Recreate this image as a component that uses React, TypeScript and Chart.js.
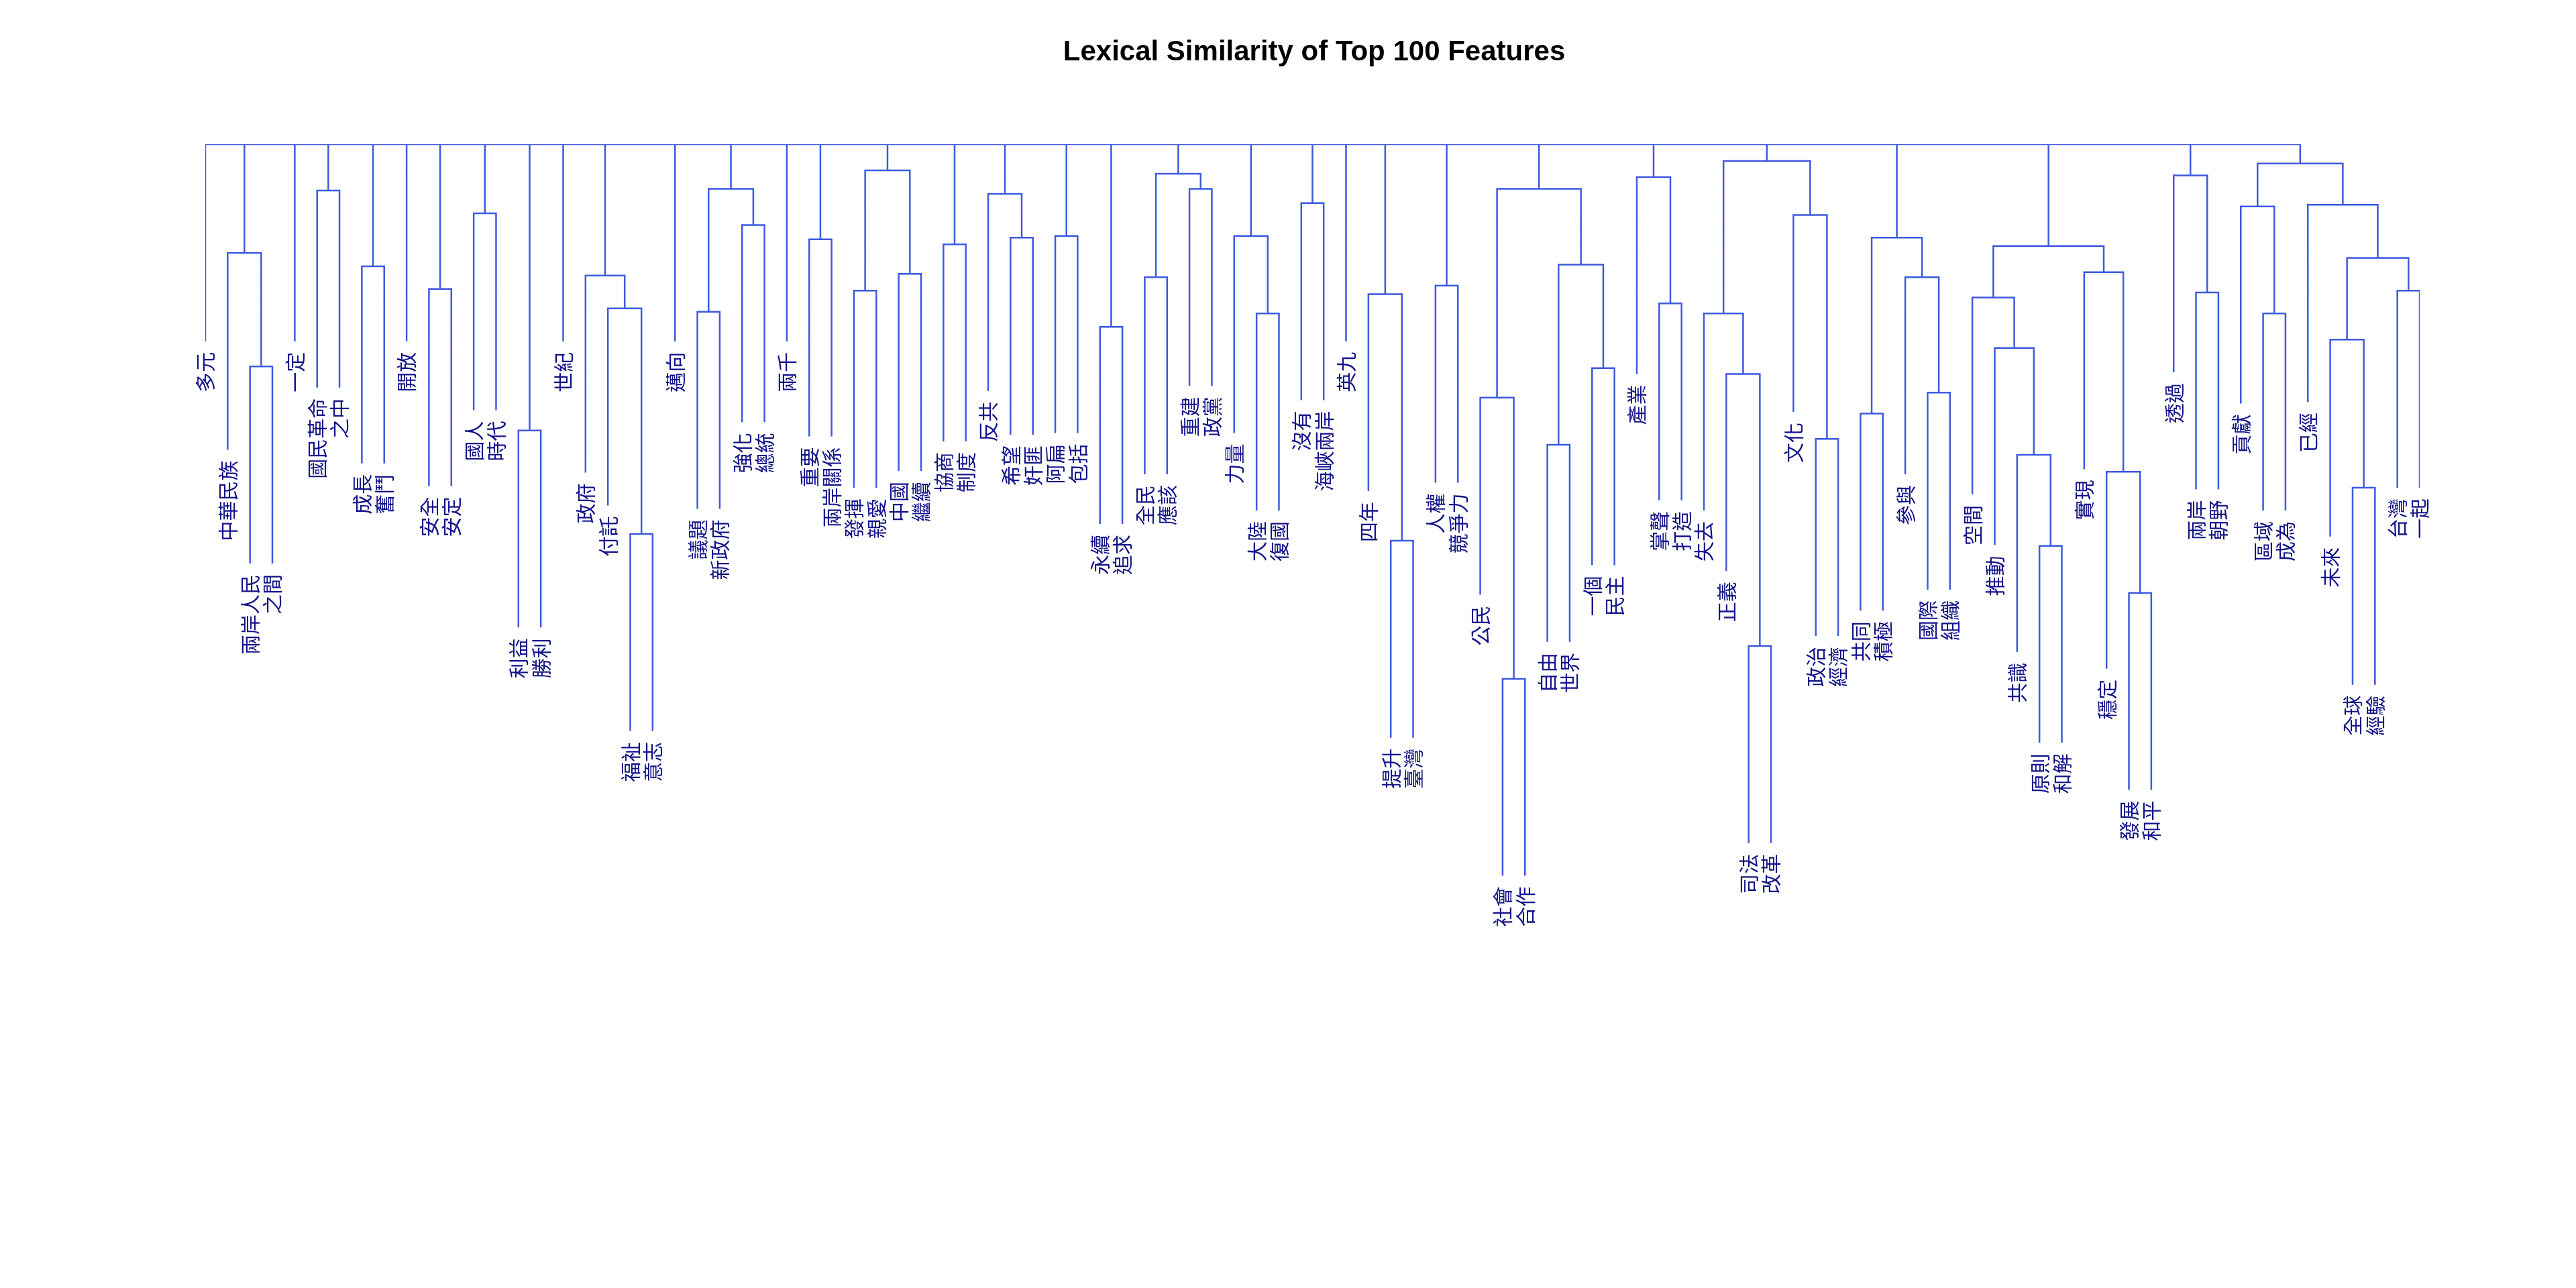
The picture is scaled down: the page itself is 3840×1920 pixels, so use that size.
import React, { useEffect, useRef } from "react";
import { Chart, registerables } from "chart.js";

Chart.register(...registerables);

const labels: string[] = [
  "多元", "中華民族", "兩岸人民", "之間", "一定", "國民革命", "之中", "成長", "奮鬥", "開放",
  "安全", "安定", "國人", "時代", "利益", "勝利", "世紀", "政府", "付託", "福祉",
  "意志", "邁向", "議題", "新政府", "強化", "總統", "兩千", "重要", "兩岸關係", "發揮",
  "親愛", "中國", "繼續", "協商", "制度", "反共", "希望", "奸匪", "阿扁", "包括",
  "永續", "追求", "全民", "應該", "重建", "政黨", "力量", "大陸", "復國", "沒有",
  "海峽兩岸", "英九", "四年", "提升", "臺灣", "人權", "競爭力", "公民", "社會", "合作",
  "自由", "世界", "一個", "民主", "產業", "掌聲", "打造", "失去", "正義", "司法",
  "改革", "文化", "政治", "經濟", "共同", "積極", "參與", "國際", "組織", "空間",
  "推動", "共識", "原則", "和解", "實現", "穩定", "發展", "和平", "透過", "兩岸",
  "朝野", "貢獻", "區域", "成為", "已經", "未來", "全球", "經驗", "台灣", "一起",
];

// [a, b, height]: refs < 100 are leaves, ref >= 100 is merge (ref - 100)
const merges: [number, number, number][] = [
  [2, 3, 0.736], [1, 100, 0.871], [5, 6, 0.945], [7, 8, 0.855], [10, 11, 0.828],
  [12, 13, 0.918], [14, 15, 0.66], [19, 20, 0.537], [18, 107, 0.805], [17, 108, 0.844],
  [22, 23, 0.801], [24, 25, 0.904], [110, 111, 0.947], [27, 28, 0.887], [29, 30, 0.826],
  [31, 32, 0.846], [114, 115, 0.969], [33, 34, 0.881], [36, 37, 0.889], [35, 118, 0.941],
  [38, 39, 0.891], [40, 41, 0.783], [42, 43, 0.842], [44, 45, 0.947], [122, 123, 0.965],
  [47, 48, 0.799], [46, 125, 0.891], [49, 50, 0.93], [53, 54, 0.529], [52, 128, 0.822],
  [55, 56, 0.832], [58, 59, 0.365], [57, 131, 0.699], [60, 61, 0.643], [62, 63, 0.734],
  [133, 134, 0.857], [132, 135, 0.947], [65, 66, 0.811], [64, 137, 0.961], [69, 70, 0.404],
  [68, 139, 0.727], [67, 140, 0.799], [72, 73, 0.65], [71, 142, 0.916], [141, 143, 0.98],
  [74, 75, 0.68], [77, 78, 0.705], [76, 146, 0.842], [145, 147, 0.889], [82, 83, 0.523],
  [81, 149, 0.631], [80, 150, 0.758], [79, 151, 0.818], [86, 87, 0.467], [85, 153, 0.611],
  [84, 154, 0.848], [152, 155, 0.879], [89, 90, 0.824], [88, 157, 0.963], [92, 93, 0.799],
  [91, 159, 0.926], [96, 97, 0.592], [95, 161, 0.768], [98, 99, 0.826], [162, 163, 0.865],
  [94, 164, 0.928], [160, 165, 0.977],
];

const rootChildren: number[] = [
  0, 101, 4, 102, 103, 9, 104, 105, 106, 16, 109, 21, 112, 26, 113, 116, 117, 119,
  120, 121, 124, 126, 127, 51, 129, 130, 136, 138, 144, 148, 156, 158, 166,
];
const rootHeight = 1.0;
const hang = 0.234;

const App: React.FC = () => {
  const chartRef = useRef<HTMLCanvasElement | null>(null);
  const chartInstanceRef = useRef<Chart | null>(null);

  useEffect(() => {
    document.body.style.margin = "0";
    if (!chartRef.current) return;
    if (chartInstanceRef.current) chartInstanceRef.current.destroy();

    // node positions
    const xOf = (r: number): number =>
      r < 100 ? r : (xOf(merges[r - 100][0]) + xOf(merges[r - 100][1])) / 2;
    const leafBottom: number[] = new Array(labels.length).fill(0);
    const topOf = (r: number, parentH: number): number => {
      if (r < 100) {
        leafBottom[r] = parentH - hang;
        return parentH - hang;
      }
      return merges[r - 100][2];
    };

    const pts: { x: number; y: number | null }[] = [];
    const seg = (p: { x: number; y: number }[]) => {
      pts.push(...p);
      pts.push({ x: p[p.length - 1].x, y: null });
    };
    merges.forEach(([a, b, h]) => {
      const xa = xOf(a);
      const xb = xOf(b);
      seg([
        { x: xa, y: topOf(a, h) },
        { x: xa, y: h },
        { x: xb, y: h },
        { x: xb, y: topOf(b, h) },
      ]);
    });
    rootChildren.forEach((c) => {
      const xc = xOf(c);
      seg([{ x: xc, y: topOf(c, rootHeight) }, { x: xc, y: rootHeight }]);
    });
    seg([
      { x: xOf(rootChildren[0]), y: rootHeight },
      { x: xOf(rootChildren[rootChildren.length - 1]), y: rootHeight },
    ]);

    const textPlugin = {
      id: "dendroText",
      afterDraw(chart: Chart) {
        const ctx = chart.ctx;
        const xs = chart.scales.x;
        const ys = chart.scales.y;
        ctx.save();
        ctx.fillStyle = "#000000";
        ctx.font = "bold 42px 'Liberation Sans', Arial, sans-serif";
        ctx.textAlign = "center";
        ctx.textBaseline = "middle";
        ctx.fillText("Lexical Similarity of Top 100 Features", 1959, 78);
        ctx.fillStyle = "#12128a";
        ctx.font = "30px 'Noto Sans CJK TC', sans-serif";
        ctx.textAlign = "right";
        labels.forEach((lab, i) => {
          ctx.save();
          ctx.translate(xs.getPixelForValue(i), ys.getPixelForValue(leafBottom[i]) + 16);
          ctx.rotate(-Math.PI / 2);
          ctx.fillText(lab, 0, 0);
          ctx.restore();
        });
        ctx.restore();
      },
    };

    chartInstanceRef.current = new Chart(chartRef.current, {
      type: "scatter",
      data: {
        datasets: [
          {
            data: pts as any,
            showLine: true,
            spanGaps: false,
            borderColor: "#3d5ae0",
            borderWidth: 2.5,
            pointRadius: 0,
            fill: false,
          },
        ],
      },
      options: {
        animation: false,
        responsive: false,
        events: [],
        layout: { padding: { left: 306, right: 233, top: 215, bottom: 450 } },
        plugins: { legend: { display: false }, tooltip: { enabled: false } },
        scales: {
          x: { type: "linear", min: 0, max: labels.length - 1, display: false },
          y: { type: "linear", min: 0, max: 1, display: false },
        },
      },
      plugins: [textPlugin],
    });

    return () => {
      if (chartInstanceRef.current) {
        chartInstanceRef.current.destroy();
        chartInstanceRef.current = null;
      }
    };
  }, []);

  return (
    <div style={{ width: 3840, height: 1920, background: "#ffffff" }}>
      <canvas ref={chartRef} width={3840} height={1920} style={{ width: 3840, height: 1920 }} />
    </div>
  );
};

export default App;
